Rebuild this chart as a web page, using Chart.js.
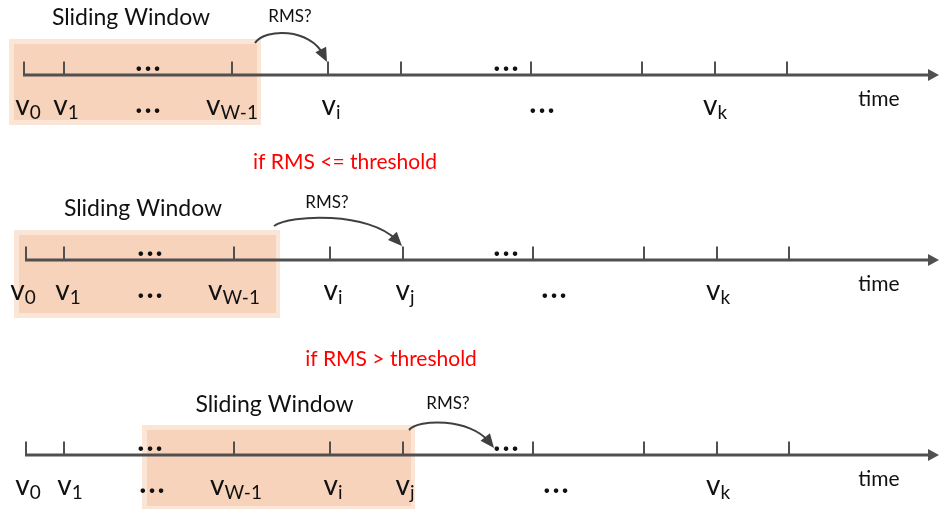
<!DOCTYPE html>
<html>
<head>
<meta charset="utf-8">
<script src="https://cdn.jsdelivr.net/npm/chart.js@4.4.0/dist/chart.umd.min.js"></script>
<style>
  html, body { margin: 0; padding: 0; background: #fff; }
  #wrap { width: 939px; height: 509px; position: relative; }
</style>
</head>
<body>
<div id="wrap"><canvas id="myChart"></canvas></div>
<script>
// positions along the time axis (diagram units)
const tickTimes = [24, 63, 232, 328, 401, 531, 642, 715, 787];
const rowShift = [0, 2, 2];
const rowAxisY = [75, 260, 455];

// labels under each axis: [main, subscript, time]
const rowLabels = [
  [['v', '0', 28], ['v', '1', 66], ['...', '', 148], ['v', 'W-1', 232], ['v', 'i', 331], ['...', '', 542], ['v', 'k', 715]],
  [['v', '0', 23], ['v', '1', 68], ['...', '', 150], ['v', 'W-1', 234], ['v', 'i', 333], ['v', 'j', 405], ['...', '', 554], ['v', 'k', 718]],
  [['v', '0', 28], ['v', '1', 70], ['...', '', 152], ['v', 'W-1', 236], ['v', 'i', 333], ['v', 'j', 405], ['...', '', 556], ['v', 'k', 718]],
];
// "..." drawn above the axis
const upperDots = [[148, 506], [150, 506], [150, 506]];

const windowFrom = [9, 14, 142];
const windowTo = [261, 280, 415];
const rmsTarget = [327, 402, 494];
const conditions = ['if RMS <= threshold', 'if RMS > threshold'];
const conditionX = [345, 391];
const conditionY = [163, 360];

const axisColor = '#505050';

const datasets = [];
rowAxisY.forEach((y, r) => {
  datasets.push({
    type: 'line',
    data: [{ x: tickTimes[0] + rowShift[r] - 1, y: y }, { x: 930, y: y }],
    borderColor: axisColor,
    borderWidth: 3,
    pointRadius: 0,
  });
  datasets.push({
    type: 'scatter',
    data: tickTimes.map((t, i) => ({ x: t + (i === 0 || i > 1 ? rowShift[r] : 1), y: y - 6.5 })),
    pointStyle: 'line',
    rotation: 90,
    radius: 7,
    borderWidth: 2,
    borderColor: axisColor,
  });
});

const drawSub = (ctx, main, sub, cx, base) => {
  ctx.font = '28px Lato';
  const w1 = ctx.measureText(main).width;
  ctx.font = '19px Lato';
  const w2 = ctx.measureText(sub).width;
  const left = cx - (w1 + w2) / 2;
  ctx.textAlign = 'left';
  ctx.font = '28px Lato';
  ctx.fillText(main, left, base);
  ctx.font = '19px Lato';
  ctx.fillText(sub, left + w1, base + 4);
};

const drawDots = (ctx, cx, cy) => {
  ctx.font = 'bold 30px Lato';
  ctx.letterSpacing = '2px';
  ctx.textAlign = 'center';
  ctx.fillText('...', cx + 1, cy + 4);
  ctx.letterSpacing = '0px';
};

const diagram = {
  id: 'diagram',
  beforeDatasetsDraw(chart) {
    const ctx = chart.ctx;
    const X = (v) => chart.scales.x.getPixelForValue(v);
    const Y = (v) => chart.scales.y.getPixelForValue(v);
    const tops = [-36, -30, -30];
    const bottoms = [50, 58, 56];
    ctx.save();
    rowAxisY.forEach((y, r) => {
      const x0 = X(windowFrom[r]), x1 = X(windowTo[r]);
      const y0 = Y(y + tops[r]), y1 = Y(y + bottoms[r]);
      ctx.fillStyle = '#fbe5d6';
      ctx.fillRect(x0, y0, x1 - x0, y1 - y0);
      ctx.fillStyle = '#f6d3ba';
      ctx.fillRect(x0 + 5, y0 + 5, x1 - x0 - 9, y1 - y0 - 10);
    });
    ctx.restore();
  },
  afterDatasetsDraw(chart) {
    const ctx = chart.ctx;
    const X = (v) => chart.scales.x.getPixelForValue(v);
    const Y = (v) => chart.scales.y.getPixelForValue(v);
    ctx.save();
    ctx.fillStyle = '#111';
    ctx.textBaseline = 'alphabetic';
    const titleY = [-50, -44, -43];
    const rmsY = [-53, -52, -46];
    const rmsX = [290, 327, 448];
    // curve: start dy, control points [x, dy], end dy
    const startY = [-32, -34, -25];
    const c1 = [[265, -47], [290, -46], [418, -36]];
    const c2 = [[310, -47], [370, -48], [470, -37]];
    const endY = [-13, -14, -7];
    rowAxisY.forEach((y, r) => {
      // axis arrow head
      ctx.fillStyle = axisColor;
      ctx.beginPath();
      ctx.moveTo(X(939), Y(y));
      ctx.lineTo(X(928), Y(y) - 6);
      ctx.lineTo(X(928), Y(y) + 6);
      ctx.closePath();
      ctx.fill();

      ctx.fillStyle = '#111';
      rowLabels[r].forEach(([m, s, t]) => {
        if (m === '...') drawDots(ctx, X(t), Y(y + 34));
        else drawSub(ctx, m, s, X(t), Y(y + 40));
      });
      upperDots[r].forEach((t) => drawDots(ctx, X(t), Y(y - 8)));

      ctx.textAlign = 'center';
      ctx.font = '21px Lato';
      ctx.fillText('time', X(879), Y(y + 31));

      ctx.font = '23px Lato';
      ctx.fillText('Sliding Window', X((windowFrom[r] + windowTo[r]) / 2 - 4), Y(y + titleY[r]));

      ctx.font = '17px Lato';
      ctx.fillText('RMS?', X(rmsX[r]), Y(y + rmsY[r]));

      // curved arrow from window to next sample
      const sx = X(windowTo[r] - 6), sy = Y(y + startY[r]);
      const ax = X(c1[r][0]), ay = Y(y + c1[r][1]);
      const bx = X(c2[r][0]), by = Y(y + c2[r][1]);
      const ex = X(rmsTarget[r]), ey = Y(y + endY[r]);
      const a = Math.atan2(ey - by, ex - bx);
      ctx.strokeStyle = '#404040';
      ctx.lineWidth = 2;
      ctx.beginPath();
      ctx.moveTo(sx, sy);
      ctx.bezierCurveTo(ax, ay, bx, by, ex - 8 * Math.cos(a), ey - 8 * Math.sin(a));
      ctx.stroke();
      ctx.fillStyle = '#404040';
      ctx.beginPath();
      ctx.moveTo(ex, ey);
      ctx.lineTo(ex - 14 * Math.cos(a) + 6 * Math.sin(a), ey - 14 * Math.sin(a) - 6 * Math.cos(a));
      ctx.lineTo(ex - 14 * Math.cos(a) - 6 * Math.sin(a), ey - 14 * Math.sin(a) + 6 * Math.cos(a));
      ctx.closePath();
      ctx.fill();
    });

    ctx.fillStyle = '#ff0000';
    ctx.font = '21px Lato';
    ctx.textAlign = 'center';
    conditions.forEach((c, i) => ctx.fillText(c, X(conditionX[i]), Y(conditionY[i] + 6)));
    ctx.restore();
  },
};

new Chart(document.getElementById('myChart'), {
  type: 'scatter',
  data: { datasets: datasets },
  options: {
    responsive: true,
    maintainAspectRatio: false,
    animation: false,
    layout: { padding: 0, autoPadding: false },
    plugins: { legend: { display: false }, tooltip: { enabled: false } },
    scales: {
      x: { type: 'linear', min: 0, max: 939, display: false },
      y: { type: 'linear', min: 0, max: 509, reverse: true, display: false },
    },
  },
  plugins: [diagram],
});
</script>
</body>
</html>
